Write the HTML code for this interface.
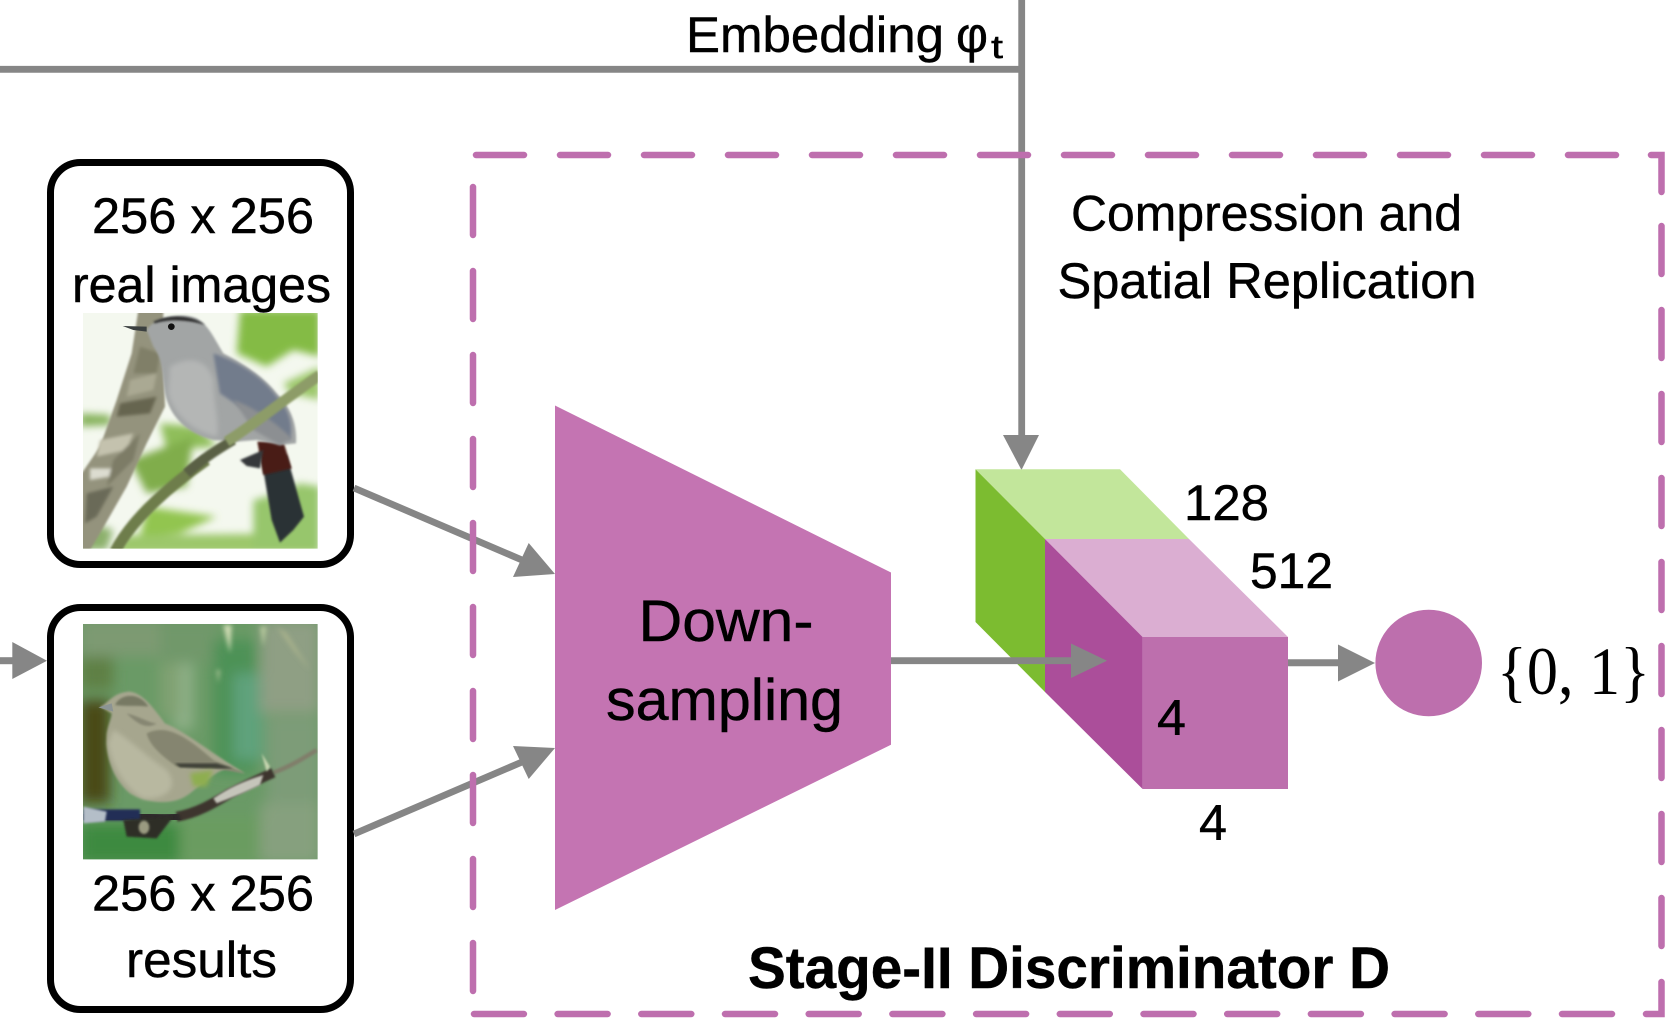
<!DOCTYPE html>
<html><head><meta charset="utf-8"><style>
html,body{margin:0;padding:0;background:#fff}
svg{display:block}
text{font-family:"Liberation Sans",sans-serif;font-size:50px;fill:#000;stroke:#000;stroke-width:.45}
</style></head><body>
<svg width="1676" height="1028" viewBox="0 0 1676 1028" xmlns="http://www.w3.org/2000/svg">
<defs>
<filter id="b3" x="-20%" y="-20%" width="140%" height="140%"><feGaussianBlur stdDeviation="3"/></filter>
<filter id="b5" x="-20%" y="-20%" width="140%" height="140%"><feGaussianBlur stdDeviation="5"/></filter>
<filter id="b6" x="-20%" y="-20%" width="140%" height="140%"><feGaussianBlur stdDeviation="7"/></filter>
<filter id="b14" x="-30%" y="-30%" width="160%" height="160%"><feGaussianBlur stdDeviation="12"/></filter>
<filter id="b25" x="-30%" y="-30%" width="160%" height="160%"><feGaussianBlur stdDeviation="20"/></filter>
<clipPath id="c1"><rect x="249" y="519" width="704" height="707"/></clipPath>
<clipPath id="c2"><rect x="249" y="102" width="704" height="706"/></clipPath>
</defs>
<rect width="1676" height="1028" fill="#fff"/>

<!-- embedding -->
<path d="M0,69.3H1021.7M1021.7,0V440" stroke="#868686" stroke-width="6.8" fill="none"/>
<path d="M1003,435H1039L1021.5,470Z" fill="#868686"/>
<text x="686" y="52" textLength="258" lengthAdjust="spacingAndGlyphs">Embedding</text>
<text x="956" y="52" textLength="32" lengthAdjust="spacingAndGlyphs">φ</text>
<text x="991" y="58" style="font-size:32px" textLength="12" lengthAdjust="spacingAndGlyphs">t</text>

<!-- boxes -->
<rect x="50.5" y="162.5" width="300" height="402" rx="30" fill="#fff" stroke="#000" stroke-width="7"/>
<rect x="50.5" y="607.5" width="300" height="402" rx="30" fill="#fff" stroke="#000" stroke-width="7"/>

<!-- left arrow -->
<path d="M0,660.7H14" stroke="#868686" stroke-width="7"/>
<path d="M12.3,642L47,660.7L12.3,679Z" fill="#868686"/>

<text x="92" y="233" textLength="222" lengthAdjust="spacingAndGlyphs">256 x 256</text>
<text x="72" y="302" textLength="259" lengthAdjust="spacingAndGlyphs">real images</text>
<text x="92" y="910.5" textLength="222" lengthAdjust="spacingAndGlyphs">256 x 256</text>
<text x="126" y="977" textLength="151" lengthAdjust="spacingAndGlyphs">results</text>

<!-- bird 1 -->
<g transform="translate(0,140) scale(.33333)">
<g clip-path="url(#c1)">
<rect x="249" y="519" width="704" height="707" fill="#f4f8ef"/>
<g filter="url(#b14)">
<path d="M720,510H960V650L880,630L800,680L710,640Z" fill="#84bb45"/>
<path d="M850,730L960,680V780L870,760Z" fill="#9cc76a"/>
<path d="M240,820L330,825L335,855L240,860Z" fill="#86b25c"/>
<path d="M480,850L600,860L650,920L500,930Z" fill="#8fbe5a"/>
<path d="M390,960L580,890L560,1040L440,1060Z" fill="#80ad4c"/>
<path d="M440,1100L650,1130L540,1180L420,1190Z" fill="#92c550"/>
<path d="M380,1185L960,1180V1240H340Z" fill="#9cc76a"/>
<path d="M760,1080L800,1070L900,1030L960,1040V1230H760Z" fill="#97c66c"/>
<path d="M240,1140L340,1170L320,1230H240Z" fill="#8cb06c"/>
</g>
<path d="M415,510L490,510L490,640L495,800L440,910L380,1040L300,1180L270,1230H245V1000L300,920L350,780L395,640Z" fill="#94937d" filter="url(#b3)"/>
<g filter="url(#b5)" fill="#c4c2ae">
<path d="M360,790L470,770L450,820L350,830Z" fill="#66654f"/>
<path d="M270,985L340,985L330,1010L270,1020Z" fill="#dcdcd0"/>
<path d="M300,900L400,880L380,930L290,950Z"/>
<path d="M260,1060L340,1040L290,1130L255,1150Z" fill="#6b6a58"/>
<path d="M420,620L480,640L470,700L400,700Z" fill="#807f68"/>
<path d="M340,960L420,880L400,960L320,1040Z" fill="#7d7c66"/>
<path d="M390,720L470,700L460,750L380,770Z" fill="#aaa993"/>
</g>
<!-- tail -->
<path d="M785,960L860,945L912,1130L880,1170L840,1208L815,1140Z" fill="#2c3034" filter="url(#b3)"/>
<path d="M772,905L850,905L875,985L790,1005Z" fill="#4a1c18" filter="url(#b3)"/>
<!-- body -->
<path d="M440,570C460,535 540,515 590,535C625,555 640,590 670,640C730,670 790,710 830,760C870,800 892,850 888,910L840,915L770,900L710,905L640,900C560,880 510,830 495,760C485,700 490,660 460,620Z" fill="#a2a5a5" filter="url(#b3)"/>
<path d="M640,640C700,660 780,700 830,770C870,810 880,860 870,900C820,870 720,800 660,760Z" fill="#727c8c" filter="url(#b5)"/>
<path d="M700,780C760,800 830,850 875,895L840,915L760,870Z" fill="#8c8f92" filter="url(#b5)"/>
<path d="M510,680C560,650 620,650 640,720C640,790 660,850 650,890C570,870 520,820 505,760Z" fill="#b4b6b5" filter="url(#b6)"/>
<path d="M460,545C500,525 570,520 615,555C570,540 510,535 465,550Z" fill="#2e2e2e" filter="url(#b3)"/>
<path d="M368,558L440,560L440,575L400,570Z" fill="#3a3f3f"/>
<circle cx="514" cy="560" r="10" fill="#111"/>
<path d="M720,960L790,930L780,985L740,978Z" fill="#34383a" filter="url(#b3)"/>
<!-- branch -->
<path d="M345,1235C400,1130 520,1030 620,960" fill="none" stroke="#6e7d4c" stroke-width="34" filter="url(#b3)"/>
<path d="M560,1000C610,955 650,930 700,900" fill="none" stroke="#5a6144" stroke-width="30" filter="url(#b3)"/>
<path d="M680,905C760,855 850,780 960,705" fill="none" stroke="#8d9c68" stroke-width="32" filter="url(#b3)"/>
</g>
</g>

<!-- bird 2 -->
<g transform="translate(0,590) scale(.33333)">
<g clip-path="url(#c2)">
<rect x="249" y="102" width="704" height="706" fill="#6a9a66"/>
<g filter="url(#b25)">
<rect x="240" y="90" width="240" height="110" fill="#7d9a72"/>
<rect x="480" y="90" width="170" height="130" fill="#71986a"/>
<rect x="520" y="220" width="60" height="200" fill="#8fb088"/>
<rect x="640" y="150" width="130" height="400" fill="#4d9256"/>
<rect x="700" y="250" width="90" height="260" fill="#5ea27c"/>
<rect x="780" y="90" width="180" height="280" fill="#8f9f84"/>
<rect x="800" y="380" width="160" height="260" fill="#7d9c78"/>
<rect x="480" y="220" width="60" height="160" fill="#80a172"/>
<rect x="240" y="200" width="100" height="100" fill="#5f8044"/>
<rect x="240" y="330" width="90" height="310" fill="#484818"/>
<rect x="240" y="700" width="320" height="120" fill="#3c8a40"/>
<rect x="540" y="680" width="260" height="140" fill="#6a9c60"/>
<rect x="780" y="640" width="180" height="180" fill="#86a07e"/>
</g>
<g filter="url(#b6)" fill="#b5c79c">
<path d="M670,105L695,105L690,190Z" fill="#cfdcb4"/>
<path d="M780,110L800,110L790,170Z"/>
<path d="M830,110L860,130L930,240L880,180Z" fill="#a9b28c"/>
<path d="M650,240L660,240L655,280Z"/>
</g>
<path d="M300,350C320,345 340,305 390,305C430,310 465,360 495,400C550,420 620,480 735,550L680,535C640,550 620,570 570,610C520,650 440,640 390,610C340,570 315,500 320,430C325,400 335,385 335,370Z" fill="#a6a68e" filter="url(#b3)"/>
<path d="M345,345C360,310 420,305 445,350C410,345 380,350 345,345Z" fill="#777964" filter="url(#b3)"/>
<path d="M380,370C420,380 450,400 470,400C440,420 410,400 380,370Z" fill="#868672" filter="url(#b3)"/>
<path d="M440,430C500,400 560,440 640,510L735,550L640,535L530,530C490,500 450,470 440,430Z" fill="#85856f" filter="url(#b3)"/>
<path d="M525,520L650,520L700,535L620,535L540,532Z" fill="#3f4238" filter="url(#b3)"/>
<path d="M340,420C380,440 440,500 500,540C540,590 500,630 430,625C380,600 335,530 325,460Z" fill="#b8b8a0" filter="url(#b6)"/>
<path d="M295,352L335,340L340,365Z" fill="#8c9494"/>
<path d="M570,550L640,540L620,590L580,590Z" fill="#8eae50" filter="url(#b6)"/>
<!-- branch -->
<path d="M820,548C870,530 910,505 950,480" fill="none" stroke="#807e6a" stroke-width="13" filter="url(#b3)"/>
<path d="M530,680C590,670 640,640 690,610C730,590 770,570 820,548" fill="none" stroke="#3c362e" stroke-width="30" filter="url(#b3)"/>
<path d="M250,675H420C470,690 510,690 540,680" fill="none" stroke="#2e2c2a" stroke-width="34" filter="url(#b3)"/>
<path d="M250,658H420V692H250Z" fill="#242d56" filter="url(#b3)"/>
<path d="M250,650L320,665L315,695L250,700Z" fill="#b4bec8" filter="url(#b3)"/>
<path d="M370,690L520,680L470,745L380,740Z" fill="#2e2e26" filter="url(#b3)"/>
<ellipse cx="432" cy="712" rx="16" ry="20" fill="#9a9a80" filter="url(#b3)"/>
<path d="M640,625C690,590 740,570 790,555L780,585C730,610 690,625 650,640Z" fill="#c5c5ba" filter="url(#b3)"/>
<path d="M785,490L810,530L800,545Z" fill="#c8d6b0" filter="url(#b3)"/>
</g>
</g>

<!-- arrows to trapezoid -->
<path d="M354,488L522,560M354,834L522,762" stroke="#868686" stroke-width="6.8" fill="none"/>
<path d="M555,574L528.7,543L513,577Z" fill="#868686"/>
<path d="M555,748L513,746L528.7,779Z" fill="#868686"/>

<!-- dashed frame -->
<g fill="none" stroke="#be6fae" stroke-width="6.5" stroke-linecap="round" stroke-linejoin="miter">
<path d="M476,155H1640" stroke-dasharray="48 36"/>
<path d="M1651,155H1661.5V192"/>
<path d="M1661.5,226V1014H1646" stroke-dasharray="48 36"/>
<path d="M1612,1014H474" stroke-dasharray="50 33.7"/>
<path d="M473,187V1000" stroke-dasharray="48 36"/>
</g>

<!-- trapezoid -->
<path d="M555,405.5L891,572.5V744.7L555,910Z" fill="#c474b2"/>
<text x="638.5" y="641" style="font-size:58px" textLength="175" lengthAdjust="spacingAndGlyphs">Down-</text>
<text x="606" y="720" style="font-size:58px" textLength="237" lengthAdjust="spacingAndGlyphs">sampling</text>

<!-- cube -->
<path d="M975.5,469.3H1120L1189,539H1045Z" fill="#c2e69b"/>
<path d="M975.5,469.3L1045,539V692L975.5,622Z" fill="#7cbc30"/>
<path d="M1045,539H1189L1288,637H1142.6Z" fill="#dbaed2"/>
<path d="M1045,539L1142.6,637V789L1045,692Z" fill="#ab4e9a"/>
<rect x="1142.6" y="637" width="145.4" height="152" fill="#bd6fad"/>

<path d="M891,660.7H1072" stroke="#868686" stroke-width="6.8"/>
<path d="M1071,643.5L1107,660.7L1071,678Z" fill="#868686"/>
<path d="M1288,662.7H1340" stroke="#868686" stroke-width="7"/>
<path d="M1338,644.5L1375,663L1338,681.5Z" fill="#868686"/>
<circle cx="1428.7" cy="663" r="53.3" fill="#bd6fad"/>

<text x="1184" y="520" textLength="85" lengthAdjust="spacingAndGlyphs">128</text>
<text x="1250" y="588" textLength="83" lengthAdjust="spacingAndGlyphs">512</text>
<text x="1157" y="735" textLength="29" lengthAdjust="spacingAndGlyphs">4</text>
<text x="1199" y="840" textLength="28" lengthAdjust="spacingAndGlyphs">4</text>
<text x="1497" y="694" style="font-family:'Liberation Serif',serif;font-size:68px;stroke-width:0" textLength="153" lengthAdjust="spacingAndGlyphs">{0, 1}</text>

<text x="1071" y="230.7" textLength="391" lengthAdjust="spacingAndGlyphs">Compression and</text>
<text x="1057.5" y="298" textLength="419" lengthAdjust="spacingAndGlyphs">Spatial Replication</text>
<text x="748" y="988" style="font-size:58px;font-weight:bold" textLength="642" lengthAdjust="spacingAndGlyphs">Stage-II Discriminator D</text>
</svg>
</body></html>
